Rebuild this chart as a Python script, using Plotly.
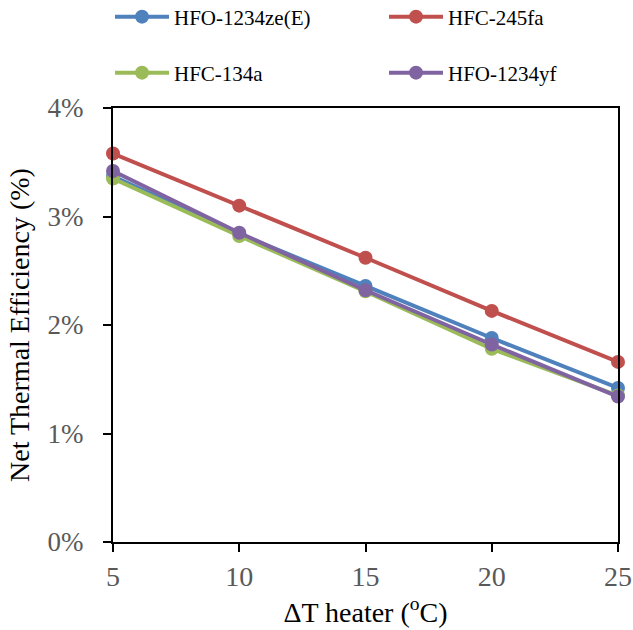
import plotly.graph_objects as go

dt_heater = [5, 10, 15, 20, 25]
hfo_1234ze = [3.37, 2.84, 2.36, 1.88, 1.42]
hfc_245fa = [3.58, 3.10, 2.62, 2.13, 1.66]
hfc_134a = [3.35, 2.82, 2.31, 1.78, 1.35]
hfo_1234yf = [3.42, 2.85, 2.32, 1.82, 1.34]

series = [
    ("HFO-1234ze(E)", hfo_1234ze, "#4F81BD", "legend"),
    ("HFC-245fa", hfc_245fa, "#C0504D", "legend2"),
    ("HFC-134a", hfc_134a, "#9BBB59", "legend3"),
    ("HFO-1234yf", hfo_1234yf, "#8064A2", "legend4"),
]

fig = go.Figure()
for name, vals, color, lg in series:
    fig.add_trace(go.Scatter(
        x=dt_heater, y=vals, name=name, mode="lines+markers",
        line=dict(color=color, width=4),
        marker=dict(color=color, size=14),
        legend=lg, cliponaxis=False, showlegend=True,
    ))

font_family = "'Liberation Serif', 'Times New Roman', serif"
legend_common = dict(
    orientation="v", xref="paper", yref="paper",
    xanchor="left", yanchor="middle", itemwidth=54,
    font=dict(family=font_family, size=21, color="black"),
    bgcolor="rgba(0,0,0,0)", borderwidth=0,
)
PW, PH = 505, 434
x1 = (110 - 113) / PW
x2 = (384 - 113) / PW
y1 = (542 - 17) / PH
y2 = (542 - 73) / PH

fig.update_layout(
    width=633, height=630,
    showlegend=True,
    margin=dict(l=113, r=15, t=108, b=88, autoexpand=False),
    paper_bgcolor="white", plot_bgcolor="white",
    font=dict(family=font_family),
    legend=dict(x=x1, y=y1, **legend_common),
    legend2=dict(x=x2, y=y1, **legend_common),
    legend3=dict(x=x1, y=y2, **legend_common),
    legend4=dict(x=x2, y=y2, **legend_common),
    xaxis=dict(
        range=[5, 25], tickvals=[5, 10, 15, 20, 25],
        showline=True, linecolor="black", linewidth=2, mirror=True,
        ticks="outside", ticklen=8, tickwidth=2, tickcolor="black",
        showgrid=False, zeroline=False, automargin=False,
        ticklabelstandoff=0,
        tickfont=dict(family=font_family, size=28, color="#595959"),
        title=dict(text="ΔT heater (<sup>o</sup>C)",
                   font=dict(family=font_family, size=28, color="black"),
                   standoff=12),
    ),
    yaxis=dict(
        range=[0, 4], tickvals=[0, 1, 2, 3, 4], ticktext=["0%", "1%", "2%", "3%", "4%"],
        showline=True, linecolor="black", linewidth=2, mirror=True,
        ticks="outside", ticklen=8, tickwidth=2, tickcolor="black",
        showgrid=False, zeroline=False, automargin=False,
        ticklabelstandoff=14,
        tickfont=dict(family=font_family, size=27, color="#595959"),
        title=dict(text="Net Thermal Efficiency (%)",
                   font=dict(family=font_family, size=28, color="black"),
                   standoff=10),
    ),
)

fig.write_html(
    "out.html",
    config={"displayModeBar": False},
    post_script="document.body.style.margin='0';document.body.style.overflow='hidden';",
)
